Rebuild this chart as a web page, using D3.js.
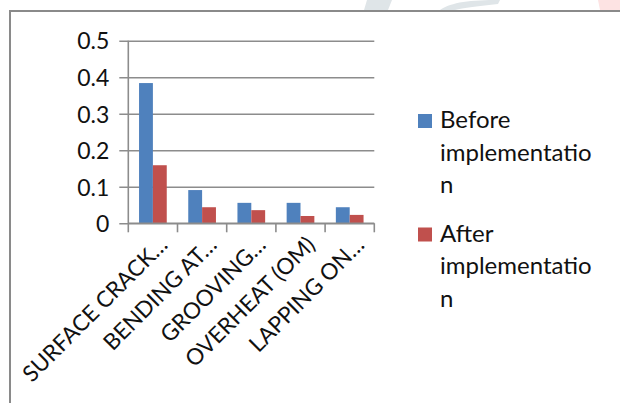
<!DOCTYPE html>
<html>
<head>
<meta charset="utf-8">
<script src="https://cdn.jsdelivr.net/npm/d3@7"></script>
<style>
  body { margin: 0; background: #fff; }
  svg { display: block; }
  .axis text { font-family: Lato, 'Open Sans', sans-serif; fill: #111; }
</style>
</head>
<body>
<div id="chart"></div>
<script>
// Data
const categories = ['SURFACE CRACK…', 'BENDING AT…', 'GROOVING…', 'OVERHEAT (OM)', 'LAPPING ON…'];
const seriesNames = ['Before implementation', 'After implementation'];
const legendLines = [['Before', 'implementatio', 'n'], ['After', 'implementatio', 'n']];
const beforeValues = [0.384, 0.091, 0.056, 0.056, 0.044];
const afterValues = [0.159, 0.044, 0.036, 0.020, 0.023];
const yTicks = [0, 0.1, 0.2, 0.3, 0.4, 0.5];
const colors = ['#4F81BD', '#C0504D'];

const width = 620;
const height = 403;
const font = 'Lato, "Open Sans", sans-serif';

// plot area
const margin = { top: 40.7, left: 128.3, right: 245.7, bottom: 179.7 };
const plotW = width - margin.left - margin.right;
const plotH = height - margin.top - margin.bottom;

const svg = d3.select('#chart')
  .append('svg')
  .attr('width', width)
  .attr('height', height);

svg.append('rect')
  .attr('width', width)
  .attr('height', height)
  .attr('fill', '#fff');

// faint watermark bits peeking above the frame
svg.append('path')
  .attr('d', 'M367,0 L392,0 L388,10 L364,10 Z')
  .attr('fill', '#dfe5e8');
svg.append('path')
  .attr('d', 'M440,10 C452,2 470,0 500,0 L498,4 C480,6 462,8 455,10 Z')
  .attr('fill', '#dfe5e8');
svg.append('path')
  .attr('d', 'M598,0 L620,0 L620,10 L600,10 Z')
  .attr('fill', '#fde3e3');

// chart frame (top and left edges visible)
svg.append('path')
  .attr('d', `M10,${height} V11 H${width}`)
  .attr('fill', 'none')
  .attr('stroke', '#8a8a8a')
  .attr('stroke-width', 2);

const g = svg.append('g')
  .attr('transform', `translate(${margin.left},${margin.top})`);

const x = d3.scaleBand()
  .domain(categories)
  .range([0, plotW]);

const bw = x.bandwidth();
const x1 = d3.scaleBand()
  .domain(seriesNames)
  .range([bw * 0.2185, bw * 0.7815]);

const y = d3.scaleLinear()
  .domain([0, 0.5])
  .range([plotH, 0]);

// gridlines + y labels
const yAxis = d3.axisLeft(y)
  .tickValues(yTicks)
  .tickSize(-plotW)
  .tickSizeOuter(0)
  .tickPadding(19)
  .tickFormat((d) => (d === 0 ? '0' : d3.format('.1f')(d)));

const yG = g.append('g')
  .attr('class', 'axis y-axis')
  .call(yAxis);
yG.select('.domain').remove();
yG.selectAll('.tick line')
  .attr('x1', -9)
  .attr('stroke', '#8c8c8c')
  .attr('stroke-width', 1.6);
yG.selectAll('.tick text')
  .style('font-family', font)
  .style('font-size', '23px')
  .attr('dy', '0.36em');

// bars
const rows = categories.map((c, i) => ({ cat: c, vals: [beforeValues[i], afterValues[i]] }));

g.selectAll('.bar-group')
  .data(rows)
  .enter()
  .append('g')
  .attr('class', 'bar-group')
  .attr('transform', (d) => `translate(${x(d.cat)},0)`)
  .selectAll('rect')
  .data((d) => d.vals.map((v, j) => ({ s: seriesNames[j], v, j })))
  .enter()
  .append('rect')
  .attr('x', (d) => x1(d.s))
  .attr('y', (d) => y(d.v))
  .attr('width', x1.bandwidth())
  .attr('height', (d) => plotH - y(d.v))
  .attr('fill', (d) => colors[d.j]);

// y axis line
g.append('line')
  .attr('x1', 0).attr('x2', 0)
  .attr('y1', 0).attr('y2', plotH)
  .attr('stroke', '#8c8c8c')
  .attr('stroke-width', 1.6);

// x axis line and boundary ticks
g.append('line')
  .attr('x1', 0).attr('x2', plotW)
  .attr('y1', plotH).attr('y2', plotH)
  .attr('stroke', '#8c8c8c')
  .attr('stroke-width', 1.6);

const bounds = categories.map((c) => x(c)).concat([x.range()[1]]);
g.selectAll('.x-tick')
  .data(bounds)
  .enter()
  .append('line')
  .attr('class', 'x-tick')
  .attr('x1', (d) => d).attr('x2', (d) => d)
  .attr('y1', plotH).attr('y2', plotH + 9)
  .attr('stroke', '#8c8c8c')
  .attr('stroke-width', 1.6);

// rotated category labels
g.selectAll('.x-label')
  .data(categories)
  .enter()
  .append('text')
  .attr('class', 'x-label')
  .attr('text-anchor', 'end')
  .attr('transform', (d) => `translate(${x(d) + bw / 2 + 16},${plotH + 23}) rotate(-45)`)
  .style('font-family', font)
  .style('font-size', '22.5px')
  .attr('fill', '#111')
  .text((d) => d);

// legend
const legend = svg.append('g')
  .attr('class', 'legend')
  .attr('transform', 'translate(418,114)');

const item = legend.selectAll('.legend-item')
  .data(seriesNames)
  .enter()
  .append('g')
  .attr('class', 'legend-item')
  .attr('transform', (d, i) => `translate(0,${i * 113.5})`);

item.append('rect')
  .attr('width', 14)
  .attr('height', 14)
  .attr('fill', (d, i) => colors[i]);

item.append('text')
  .attr('x', 22)
  .attr('y', 14)
  .style('font-family', font)
  .style('font-size', '24px')
  .attr('fill', '#111')
  .selectAll('tspan')
  .data((d, i) => legendLines[i])
  .enter()
  .append('tspan')
  .attr('x', 22)
  .attr('dy', (d, k) => (k === 0 ? 0 : 32.7))
  .text((d) => d);
</script>
</body>
</html>
